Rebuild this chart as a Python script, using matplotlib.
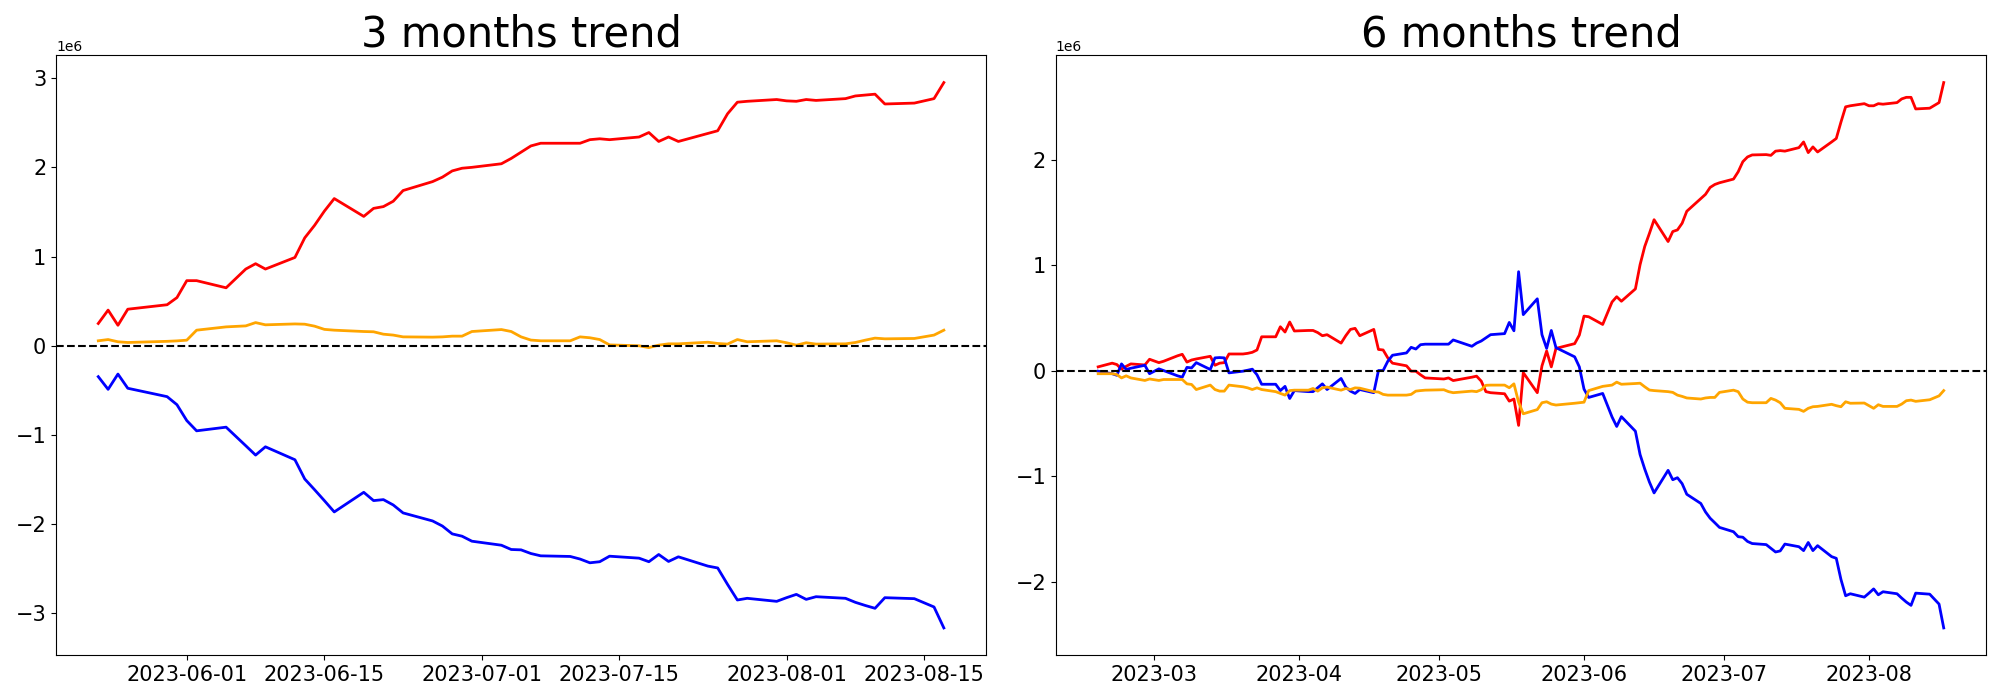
import matplotlib
matplotlib.use("Agg")
import matplotlib.pyplot as plt
import pandas as pd

# KRX closed on these days
holidays = ["2023-03-01", "2023-05-01", "2023-05-05", "2023-05-29", "2023-06-06", "2023-08-15"]

dates_3m = pd.bdate_range("2023-05-23", "2023-08-17", freq="C", holidays=holidays)
dates_6m = pd.bdate_range("2023-02-17", "2023-08-17", freq="C", holidays=holidays)

# 3 months, values in millions
red_3m = [0.25, 0.40, 0.23, 0.41,
          0.46, 0.54,
          0.73, 0.73,
          0.65,
          0.86, 0.92, 0.86,
          0.99, 1.21, 1.35, 1.51, 1.65,
          1.45, 1.54, 1.56, 1.62, 1.74,
          1.84, 1.89, 1.96, 1.99, 2.00,
          2.04, 2.10, 2.17, 2.24, 2.27,
          2.27, 2.27, 2.31, 2.32, 2.31,
          2.34, 2.39, 2.29, 2.34, 2.29,
          2.38, 2.41, 2.60, 2.73, 2.74,
          2.76,
          2.745, 2.74, 2.76, 2.75,
          2.77, 2.80, 2.81, 2.82, 2.71,
          2.72, 2.77, 2.95]
blue_3m = [-0.346, -0.488, -0.317, -0.476,
           -0.57, -0.66,
           -0.838, -0.953,
           -0.912,
           -1.12, -1.225, -1.132,
           -1.277, -1.493, -1.613, -1.736, -1.862,
           -1.642, -1.735, -1.724, -1.784, -1.873,
           -1.963, -2.02, -2.108, -2.134, -2.19,
           -2.235, -2.283, -2.287, -2.328, -2.354,
           -2.361, -2.39, -2.432, -2.42, -2.358,
           -2.38, -2.42, -2.339, -2.417, -2.365,
           -2.469, -2.49, -2.674, -2.849, -2.83,
           -2.864,
           -2.823, -2.786, -2.842, -2.812,
           -2.83, -2.875, -2.91, -2.942, -2.823,
           -2.834, -2.927, -3.162]
orange_3m = [0.056, 0.07, 0.045, 0.037,
             0.05, 0.055,
             0.063, 0.175,
             0.212,
             0.223, 0.26, 0.235,
             0.245, 0.242, 0.22, 0.184, 0.175,
             0.16, 0.157, 0.13, 0.12, 0.10,
             0.097, 0.10, 0.108, 0.108, 0.16,
             0.182, 0.16, 0.10, 0.064, 0.056,
             0.056, 0.10, 0.09, 0.07, 0.01,
             0.0, -0.02, 0.007, 0.022, 0.022,
             0.04, 0.026, 0.019, 0.07, 0.045,
             0.056,
             0.034, 0.007, 0.034, 0.019,
             0.022, 0.037, 0.063, 0.086, 0.078,
             0.082, 0.12, 0.175]

# 6 months, values in millions
red_6m = [0.035, 0.07, 0.057, 0.013, 0.04, 0.063, 0.053, 0.107,
          0.075, 0.088,
          0.14, 0.154, 0.08, 0.10, 0.11,
          0.135, 0.05, 0.07, 0.075, 0.157,
          0.157, 0.163, 0.173, 0.195, 0.32,
          0.32, 0.415, 0.365, 0.46, 0.375,
          0.38, 0.38, 0.36, 0.33, 0.34,
          0.26, 0.33, 0.39, 0.40, 0.33,
          0.39, 0.20, 0.195, 0.12, 0.07,
          0.045, -0.006, -0.006, -0.04, -0.07,
          -0.08, -0.07, -0.095,
          -0.063, -0.053, -0.10, -0.20, -0.21,
          -0.22, -0.29, -0.27, -0.52, -0.02,
          -0.21, 0.044, 0.185, 0.035, 0.21,
          0.255, 0.336,
          0.516, 0.51,
          0.437,
          0.65, 0.70, 0.657,
          0.774, 1.003, 1.176, 1.30, 1.43,
          1.223, 1.318, 1.333, 1.396, 1.51,
          1.63, 1.67, 1.736, 1.764, 1.78,
          1.815, 1.884, 1.98, 2.025, 2.044,
          2.047, 2.04, 2.08, 2.085, 2.08,
          2.113, 2.167, 2.066, 2.12, 2.072,
          2.167, 2.20, 2.355, 2.50, 2.51,
          2.53,
          2.51, 2.51, 2.53, 2.525,
          2.54, 2.575, 2.59, 2.59, 2.48,
          2.487, 2.54, 2.73]
blue_6m = [-0.006, -0.03, -0.045, 0.063, 0.01, 0.022, 0.05, -0.03,
           0.016, 0.0,
           -0.05, -0.063, 0.03, 0.025, 0.075,
           0.01, 0.12, 0.123, 0.12, -0.022,
           -0.006, 0.003, 0.013, -0.04, -0.13,
           -0.13, -0.19, -0.15, -0.265, -0.19,
           -0.20, -0.20, -0.163, -0.126, -0.18,
           -0.075, -0.157, -0.195, -0.217, -0.18,
           -0.21, 0.0, 0.0, 0.088, 0.145,
           0.167, 0.22, 0.204, 0.245, 0.25,
           0.25, 0.25, 0.29,
           0.23, 0.26, 0.28, 0.31, 0.34,
           0.35, 0.456, 0.377, 0.937, 0.53,
           0.68, 0.34, 0.21, 0.38, 0.217,
           0.13, 0.035,
           -0.176, -0.255,
           -0.217,
           -0.44, -0.53, -0.437,
           -0.575, -0.796, -0.934, -1.057, -1.16,
           -0.946, -1.035, -1.016, -1.072, -1.173,
           -1.26, -1.34, -1.40, -1.443, -1.487,
           -1.528, -1.575, -1.58, -1.62, -1.64,
           -1.65, -1.685, -1.72, -1.71, -1.645,
           -1.67, -1.707, -1.63, -1.707, -1.66,
           -1.764, -1.78, -1.98, -2.135, -2.116,
           -2.148,
           -2.11, -2.07, -2.126, -2.097,
           -2.116, -2.157, -2.195, -2.226, -2.11,
           -2.12, -2.214, -2.44]
orange_6m = [-0.03, -0.03, -0.038, -0.07, -0.05, -0.07, -0.094, -0.08,
             -0.094, -0.085,
             -0.085, -0.085, -0.126, -0.132, -0.18,
             -0.138, -0.18, -0.195, -0.195, -0.138,
             -0.154, -0.164, -0.18, -0.164, -0.18,
             -0.20, -0.217, -0.233, -0.19, -0.186,
             -0.186, -0.17, -0.195, -0.164, -0.157,
             -0.186, -0.17, -0.18, -0.164, -0.167,
             -0.20, -0.204, -0.226, -0.233, -0.233,
             -0.233, -0.226, -0.195, -0.19, -0.186,
             -0.182, -0.20, -0.21,
             -0.195, -0.20, -0.182, -0.14, -0.138,
             -0.138, -0.163, -0.126, -0.30, -0.41,
             -0.37, -0.305, -0.296, -0.318, -0.327,
             -0.31, -0.305,
             -0.30, -0.19,
             -0.15,
             -0.138, -0.11, -0.13,
             -0.123, -0.12, -0.154, -0.185, -0.19,
             -0.20, -0.207, -0.233, -0.245, -0.26,
             -0.27, -0.26, -0.255, -0.255, -0.207,
             -0.186, -0.20, -0.27, -0.30, -0.305,
             -0.305, -0.264, -0.28, -0.305, -0.358,
             -0.368, -0.387, -0.358, -0.343, -0.34,
             -0.32, -0.333, -0.343, -0.296, -0.31,
             -0.308,
             -0.333, -0.358, -0.324, -0.34,
             -0.34, -0.318, -0.286, -0.28, -0.292,
             -0.277, -0.24, -0.19]

panels = [
    ("3 months trend", dates_3m, red_3m, blue_3m, orange_3m),
    ("6 months trend", dates_6m, red_6m, blue_6m, orange_6m),
]

fig, axes = plt.subplots(1, 2, figsize=(20, 7), dpi=100)
fig.subplots_adjust(left=0.028, right=0.993, top=0.921, bottom=0.064, wspace=0.075)

for ax, (title, dates, red, blue, orange) in zip(axes, panels):
    ax.plot(dates, [v * 1e6 for v in red], color="red", linewidth=2)
    ax.plot(dates, [v * 1e6 for v in blue], color="blue", linewidth=2)
    ax.plot(dates, [v * 1e6 for v in orange], color="orange", linewidth=2)
    ax.axhline(0, color="black", linestyle="--", linewidth=1.5)
    ax.set_title(title, fontsize=30)
    ax.tick_params(labelsize=15)

fig.savefig("out.png")
